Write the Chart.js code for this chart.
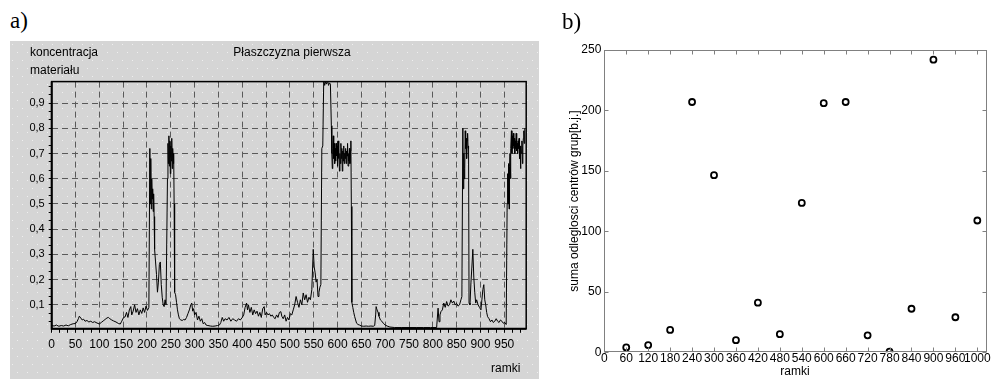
<!DOCTYPE html>
<html><head><meta charset="utf-8">
<script src="https://cdn.jsdelivr.net/npm/chart.js@4/dist/chart.umd.min.js"></script>
<style>
html,body{margin:0;padding:0;background:#fff;width:993px;height:379px;overflow:hidden;position:relative;font-family:"Liberation Sans",Arial,sans-serif;}
.abs{position:absolute;white-space:nowrap;line-height:1;color:#000;}
.sans{font-family:"Liberation Sans",Arial,sans-serif;font-size:12px;}
.serif{font-family:"Liberation Serif","Times New Roman",serif;font-size:23px;}
#wa{position:absolute;left:10px;top:41px;width:529px;height:338px;}
#wb{position:absolute;left:545px;top:30px;width:448px;height:349px;}
</style></head><body>
<div id="wa"><canvas id="ca"></canvas></div>
<div id="wb"><canvas id="cb"></canvas></div>
<div class="abs serif" style="left:10px;top:9px;">a)</div>
<div class="abs serif" style="left:562px;top:10px;">b)</div>
<div class="abs sans" style="left:30px;top:46px;">koncentracja</div>
<div class="abs sans" style="left:30px;top:64px;">materiału</div>
<div class="abs sans" style="left:142px;top:46px;width:300px;text-align:center;">Płaszczyzna pierwsza</div>
<div class="abs sans" style="left:491px;top:362px;">ramki</div>
<div class="abs sans" style="left:695px;top:365px;width:200px;text-align:center;">ramki</div>
<div class="abs sans" style="left:424px;top:195px;width:300px;text-align:center;transform:rotate(-90deg);">suma odleglosci centrów grup[b.j.]</div>
<script>
// ---------- chart a) : concentration vs frame ----------
const frames = [
 0,5,10,15,20,25,30,35,40,45,
 50,53,56,58,61,64,67,70,74,78,
 82,86,90,95,100,104,108,112,116,119,
 122,126,130,135,140,144,147,151,154,157,
 160,163,166,168,171,174,177,180,183,186,
 189,192,195,198,201,204,206,207,208,209,
 210,211,212,213,214,215,216,218,220,222,
 224,226,228,230,232,234,236,238,240,243,
 244,245,246,247,248,249,250,251,252,253,
 254,255,256,257,258,260,262,264,266,268,
 271,274,277,280,283,286,289,292,294,296,
 298,300,303,306,309,312,315,318,321,324,
 328,333,338,343,348,352,355,358,361,364,
 368,372,376,380,384,388,392,396,400,403,
 406,409,411,413,416,419,422,425,428,431,
 434,437,440,443,446,448,451,454,457,460,
 463,466,469,472,475,478,481,483,486,489,
 492,495,498,501,504,507,510,513,516,519,
 522,525,528,531,534,537,540,543,546,549,
 551,553,555,557,559,561,563,565,567,569,
 571,573,575,577,579,581,583,585,587,588,
 589,590,591,592,593,594,595,596,597,598,
 599,600,601,602,603,604,605,606,607,608,
 609,610,611,612,613,614,615,616,617,618,
 619,620,621,622,623,624,625,626,627,628,
 629,630,632,634,636,638,640,643,646,650,
 655,660,665,670,675,678,680,681,683,685,
 687,690,693,696,700,704,710,720,735,750,
 765,780,795,808,811,813,815,817,820,823,
 826,829,832,835,838,841,844,847,850,853,
 856,859,861,863,864,865,866,867,868,869,
 870,871,872,873,874,875,876,878,880,882,
 884,886,888,890,892,895,898,901,903,905,
 907,909,911,913,915,918,921,924,927,930,
 933,936,939,942,945,948,951,954,956,957,
 958,959,960,961,962,963,964,965,966,967,
 968,969,970,971,972,973,974,975,976,977,
 978,979,980,981,982,983,984,985,986,987,
 988,989,990,991,992,993
];
const concentration = [
 0.018,0.016,0.02,0.015,0.018,0.016,0.02,0.017,0.022,0.025,
 0.026,0.033,0.045,0.055,0.048,0.04,0.043,0.035,0.038,0.032,
 0.035,0.03,0.033,0.028,0.024,0.03,0.036,0.042,0.048,0.05,
 0.045,0.04,0.036,0.032,0.026,0.024,0.035,0.05,0.052,0.07,
 0.05,0.08,0.093,0.06,0.075,0.1,0.07,0.085,0.06,0.08,
 0.066,0.088,0.07,0.095,0.078,0.09,0.72,0.5,0.68,0.48,
 0.6,0.52,0.56,0.47,0.54,0.45,0.32,0.27,0.22,0.15,
 0.19,0.26,0.27,0.18,0.13,0.1,0.093,0.12,0.1,0.6,
 0.74,0.66,0.77,0.65,0.75,0.62,0.73,0.67,0.76,0.64,
 0.72,0.66,0.7,0.5,0.15,0.14,0.11,0.08,0.06,0.045,
 0.04,0.038,0.042,0.04,0.05,0.065,0.08,0.1,0.107,0.075,
 0.085,0.06,0.07,0.04,0.055,0.035,0.045,0.025,0.03,0.02,
 0.018,0.016,0.015,0.016,0.018,0.02,0.03,0.05,0.035,0.045,
 0.04,0.05,0.035,0.045,0.04,0.035,0.045,0.04,0.05,0.06,
 0.09,0.107,0.08,0.1,0.07,0.09,0.06,0.08,0.065,0.075,
 0.055,0.07,0.05,0.085,0.093,0.06,0.07,0.06,0.065,0.055,
 0.06,0.05,0.045,0.06,0.05,0.07,0.073,0.055,0.045,0.06,
 0.035,0.05,0.04,0.065,0.06,0.08,0.1,0.133,0.11,0.09,
 0.12,0.1,0.147,0.12,0.14,0.11,0.13,0.12,0.16,0.32,
 0.25,0.227,0.19,0.2,0.133,0.15,0.17,0.18,0.72,0.73,
 0.99,0.97,0.985,0.975,0.99,0.97,0.98,0.975,0.81,0.7,
 0.64,0.72,0.77,0.68,0.74,0.66,0.72,0.67,0.74,0.69,
 0.73,0.65,0.75,0.68,0.72,0.63,0.7,0.66,0.74,0.68,
 0.72,0.63,0.71,0.67,0.73,0.66,0.7,0.68,0.72,0.66,
 0.71,0.69,0.74,0.65,0.7,0.67,0.72,0.66,0.71,0.75,
 0.49,0.11,0.09,0.07,0.053,0.04,0.027,0.022,0.02,0.016,
 0.015,0.016,0.015,0.016,0.015,0.018,0.06,0.093,0.08,0.07,
 0.055,0.04,0.035,0.027,0.02,0.016,0.012,0.01,0.01,0.01,
 0.01,0.01,0.01,0.01,0.087,0.033,0.06,0.073,0.08,0.107,
 0.09,0.113,0.095,0.1,0.12,0.107,0.115,0.1,0.105,0.095,
 0.1,0.12,0.133,0.8,0.56,0.7,0.6,0.64,0.79,0.72,
 0.76,0.68,0.75,0.78,0.72,0.73,0.107,0.1,0.187,0.25,
 0.32,0.21,0.15,0.107,0.12,0.1,0.09,0.08,0.12,0.16,
 0.18,0.12,0.1,0.07,0.053,0.045,0.033,0.04,0.03,0.035,
 0.045,0.035,0.03,0.04,0.035,0.027,0.03,0.022,0.5,0.62,
 0.5,0.66,0.48,0.65,0.7,0.6,0.72,0.79,0.7,0.77,
 0.72,0.78,0.73,0.76,0.7,0.75,0.72,0.78,0.71,0.74,
 0.7,0.75,0.72,0.76,0.68,0.73,0.64,0.72,0.7,0.75,
 0.66,0.73,0.76,0.79,0.74,0.8
];
const leftXTickLabels = ['0','50','100','150','200','250','300','350','400','450','500','550','600','650','700','750','800','850','900','950'];
const leftYTickLabels = ['0,1','0,2','0,3','0,4','0,5','0,6','0,7','0,8','0,9'];

// ---------- chart b) : sum of group centre distances ----------
const groupFrames = [60,120,180,240,300,360,420,480,540,600,660,720,780,840,900,960,1020];
const groupDistanceSum = [4,6,18.5,207,146.5,10,41,15,123.5,206,207,14,0.5,36,242,29,109];
const rightXTickLabels = ['0','60','120','180','240','300','360','420','480','540','600','660','720','780','840','900','960','1000'];
const rightYTickLabels = ['0','50','100','150','200','250'];

const sans = "'Liberation Sans', Arial, sans-serif";

const panelBg = {
  id: 'panelBg',
  beforeDraw(chart) {
    const {ctx, width, height} = chart;
    ctx.save();
    ctx.fillStyle = '#d5d5d5';
    ctx.fillRect(0, 0, width, height);
    ctx.fillStyle = '#efefef';
    for (let y = 3, r = 0; y < height; y += 8, r++) {
      for (let x = (r % 2 ? 7 : 2); x < width; x += 10) ctx.fillRect(x, y, 1, 1);
    }
    ctx.restore();
  }
};
const frameA = {
  id: 'frameA',
  afterDatasetsDraw(chart) {
    const {ctx, chartArea: a} = chart;
    ctx.save();
    ctx.strokeStyle = '#000';
    ctx.lineWidth = 1.5;
    ctx.strokeRect(a.left, a.top, a.right - a.left, a.bottom - a.top);
    ctx.lineWidth = 2;
    ctx.beginPath();
    ctx.moveTo(a.left, a.top); ctx.lineTo(a.left, a.bottom); ctx.lineTo(a.right, a.bottom);
    ctx.stroke();
    ctx.restore();
  }
};

const xMinorA = [];
for (let k = 0; k * 50 / 3 <= 996; k++) xMinorA.push(k * 50 / 3);
const yMinorA = [];
for (let k = 1; k * 0.1 / 3 <= 0.985; k++) yMinorA.push(k * 0.1 / 3);

new Chart(document.getElementById('ca'), {
  type: 'line',
  data: {
    datasets: [{
      data: frames.map((f, i) => ({x: f, y: concentration[i]})),
      borderColor: '#000',
      borderWidth: 1,
      pointRadius: 0,
      tension: 0,
      fill: false
    }]
  },
  options: {
    responsive: true,
    maintainAspectRatio: false,
    animation: false,
    devicePixelRatio: 1,
    layout: {padding: {top: 40.6, right: 12.8, left: 0, bottom: 0}},
    plugins: {legend: {display: false}, tooltip: {enabled: false}, title: {display: false}},
    scales: {
      x: {
        type: 'linear', min: 0, max: 996,
        afterBuildTicks: s => { s.ticks = xMinorA.map(v => ({value: v})); },
        afterFit: s => { s.height = 50.2; },
        grid: {
          color: c => (c.index % 3 === 0 && c.index > 0) ? '#5a5a5a' : 'rgba(0,0,0,0)',
          lineWidth: 1, tickColor: '#000', tickWidth: 1, tickLength: 4, drawTicks: true
        },
        border: {display: false, dash: [6, 4]},
        ticks: {
          autoSkip: false, maxRotation: 0, minRotation: 0, padding: 5,
          color: '#000', font: {family: sans, size: 12},
          callback: (v, i) => (i % 3 === 0 && i / 3 < leftXTickLabels.length) ? leftXTickLabels[i / 3] : ''
        }
      },
      y: {
        type: 'linear', min: 0.005, max: 0.985,
        afterBuildTicks: s => { s.ticks = yMinorA.map(v => ({value: v})); },
        afterFit: s => { s.width = 41.7; },
        grid: {
          color: c => ((c.index + 1) % 3 === 0) ? '#5a5a5a' : 'rgba(0,0,0,0)',
          lineWidth: 1, tickColor: '#000', tickWidth: 1, tickLength: 3, drawTicks: true
        },
        border: {display: false, dash: [6, 4]},
        ticks: {
          autoSkip: false, padding: 4,
          color: '#000', font: {family: sans, size: 11},
          callback: (v, i) => ((i + 1) % 3 === 0) ? leftYTickLabels[(i + 1) / 3 - 1] : ''
        }
      }
    }
  },
  plugins: [panelBg, frameA]
});

const frameB = {
  id: 'frameB',
  afterDraw(chart) {
    const {ctx, chartArea: a, scales} = chart;
    ctx.save();
    ctx.strokeStyle = '#808080';
    ctx.lineWidth = 1;
    const L = Math.round(a.left) + 0.5, R = Math.round(a.right) - 0.5;
    const T = Math.round(a.top) + 0.5, B = Math.round(a.bottom) - 0.5;
    ctx.strokeRect(L, T, R - L, B - T);
    ctx.beginPath();
    scales.x.ticks.forEach(t => {
      const x = Math.round(scales.x.getPixelForValue(t.value)) + 0.5;
      ctx.moveTo(x, B); ctx.lineTo(x, B - 4);
      ctx.moveTo(x, T); ctx.lineTo(x, T + 4);
    });
    scales.y.ticks.forEach(t => {
      const y = Math.round(scales.y.getPixelForValue(t.value)) + 0.5;
      ctx.moveTo(L, y); ctx.lineTo(L + 4, y);
      ctx.moveTo(R, y); ctx.lineTo(R - 4, y);
    });
    ctx.stroke();
    ctx.restore();
  }
};

new Chart(document.getElementById('cb'), {
  type: 'scatter',
  data: {
    datasets: [{
      data: groupFrames.map((f, i) => ({x: f, y: groupDistanceSum[i]})),
      showLine: false,
      pointStyle: 'circle',
      pointRadius: 3,
      pointBorderWidth: 1.8,
      borderColor: '#000',
      backgroundColor: 'rgba(0,0,0,0)',
      pointBackgroundColor: 'rgba(0,0,0,0)'
    }]
  },
  options: {
    responsive: true,
    maintainAspectRatio: false,
    animation: false,
    devicePixelRatio: 1,
    layout: {padding: {top: 20, right: 1.3, left: 0, bottom: 0}},
    plugins: {legend: {display: false}, tooltip: {enabled: false}},
    scales: {
      x: {
        type: 'linear', min: 0, max: 1047,
        afterBuildTicks: s => { s.ticks = rightXTickLabels.map((l, i) => ({value: i * 60})); },
        afterFit: s => { s.height = 26.7; },
        grid: {display: false, drawTicks: false},
        border: {display: false},
        ticks: {
          autoSkip: false, maxRotation: 0, minRotation: 0, padding: -1,
          color: '#000', font: {family: sans, size: 12},
          callback: (v, i) => rightXTickLabels[i]
        }
      },
      y: {
        type: 'linear', min: 0, max: 250,
        afterBuildTicks: s => { s.ticks = rightYTickLabels.map(l => ({value: Number(l)})); },
        afterFit: s => { s.width = 59.3; },
        grid: {display: false, drawTicks: false},
        border: {display: false},
        ticks: {
          autoSkip: false, padding: 3,
          color: '#000', font: {family: sans, size: 12},
          callback: (v, i) => rightYTickLabels[i]
        }
      }
    }
  },
  plugins: [frameB]
});
</script>
</body></html>
